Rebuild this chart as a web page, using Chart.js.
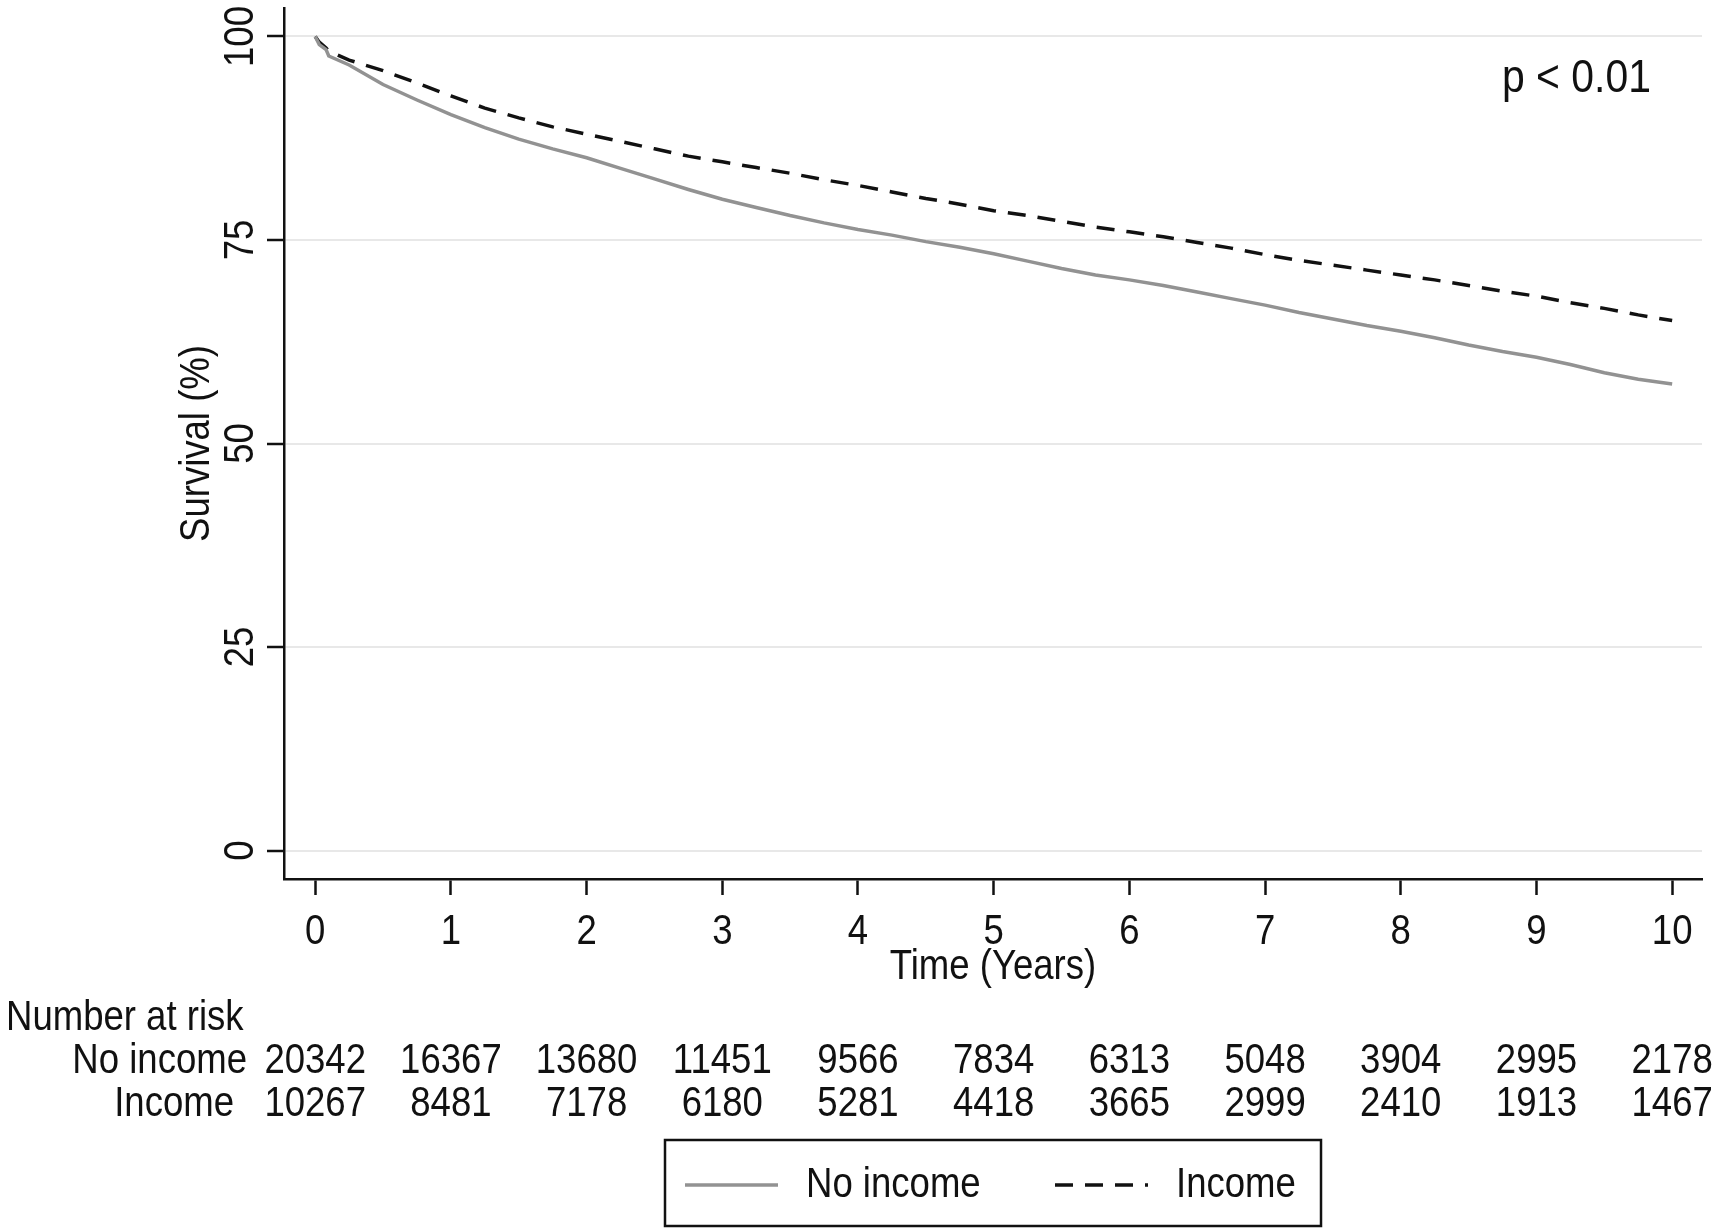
<!DOCTYPE html>
<html>
<head>
<meta charset="utf-8">
<script src="https://cdn.jsdelivr.net/npm/chart.js@4.4.0/dist/chart.umd.min.js"></script>
<style>
  body { margin: 0; background: #fff; }
  canvas { display: block; }
</style>
</head>
<body>
<canvas id="km" width="1717" height="1232"></canvas>
<script>
// survival curves (time in years, survival in %)
var years = [0, 0.03, 0.08, 0.1, 0.25, 0.5, 0.75, 1, 1.25, 1.5, 1.75, 2, 2.25, 2.5, 2.75, 3, 3.25, 3.5, 3.75, 4,
             4.25, 4.5, 4.75, 5, 5.25, 5.5, 5.75, 6, 6.25, 6.5, 6.75, 7, 7.25, 7.5, 7.75, 8, 8.25, 8.5, 8.75, 9,
             9.25, 9.5, 9.75, 10];
var noIncome = [100, 99.0, 98.4, 97.6, 96.5, 94.1, 92.2, 90.4, 88.8, 87.4, 86.2, 85.1, 83.8, 82.5, 81.2, 80.0, 79.0, 78.0, 77.1, 76.3,
                75.6, 74.8, 74.1, 73.3, 72.4, 71.5, 70.7, 70.1, 69.4, 68.6, 67.8, 67.0, 66.1, 65.3, 64.5, 63.8, 63.0, 62.1, 61.3, 60.6,
                59.7, 58.7, 57.9, 57.3];
var income = [100, 99.3, 98.6, 98.2, 97.1, 95.8, 94.3, 92.7, 91.2, 90.0, 88.9, 88.0, 87.1, 86.2, 85.3, 84.6, 83.9, 83.2, 82.4, 81.7,
              80.9, 80.1, 79.4, 78.6, 78.0, 77.3, 76.6, 76.0, 75.4, 74.7, 74.0, 73.2, 72.5, 71.9, 71.3, 70.7, 70.1, 69.4, 68.7, 68.1,
              67.3, 66.6, 65.8, 65.1];

var xTicks = [0, 1, 2, 3, 4, 5, 6, 7, 8, 9, 10];
var yTicks = [0, 25, 50, 75, 100];

// number at risk table
var riskNoIncome = [20342, 16367, 13680, 11451, 9566, 7834, 6313, 5048, 3904, 2995, 2178];
var riskIncome = [10267, 8481, 7178, 6180, 5281, 4418, 3665, 2999, 2410, 1913, 1467];

var FONT = '"Liberation Sans", Arial, sans-serif';

function pts(ys) {
  return years.map(function (t, i) { return {x: t, y: ys[i]}; });
}

// narrow-ish text like the stata export
function txt(ctx, s, x, y, align, rot, size) {
  ctx.save();
  ctx.translate(x, y);
  if (rot) ctx.rotate(rot);
  ctx.scale(0.87, 1);
  ctx.font = (size || 42) + 'px ' + FONT;
  ctx.fillStyle = '#111';
  ctx.textAlign = align;
  ctx.textBaseline = 'middle';
  ctx.fillText(s, 0, 0);
  ctx.restore();
}

var extras = {
  id: 'extras',
  afterDraw: function (chart) {
    var ctx = chart.ctx;
    var xs = chart.scales.x, ys = chart.scales.y;
    var area = chart.chartArea;

    // y tick labels, rotated
    yTicks.forEach(function (v) {
      txt(ctx, String(v), 241, ys.getPixelForValue(v), 'center', -Math.PI / 2);
    });
    txt(ctx, 'Survival (%)', 197, (area.top + area.bottom) / 2, 'center', -Math.PI / 2);

    // x tick labels + title
    xTicks.forEach(function (v) {
      txt(ctx, String(v), xs.getPixelForValue(v), 932, 'center');
    });
    txt(ctx, 'Time (Years)', (area.left + area.right) / 2, 967, 'center');

    txt(ctx, 'p < 0.01', 1502, 79, 'left', 0, 47);

    // risk table
    txt(ctx, 'Number at risk', 6, 1018, 'left');
    txt(ctx, 'No income', 247, 1061, 'right');
    txt(ctx, 'Income', 234, 1104, 'right');
    xTicks.forEach(function (v, i) {
      var px = xs.getPixelForValue(v);
      txt(ctx, String(riskNoIncome[i]), px, 1061, 'center');
      txt(ctx, String(riskIncome[i]), px, 1104, 'center');
    });

    // legend box
    ctx.save();
    ctx.strokeStyle = '#111';
    ctx.lineWidth = 2.5;
    ctx.strokeRect(665, 1140, 656, 86);
    ctx.lineWidth = 3.5;
    ctx.strokeStyle = '#929292';
    ctx.beginPath(); ctx.moveTo(685, 1185); ctx.lineTo(778, 1185); ctx.stroke();
    ctx.strokeStyle = '#111';
    ctx.setLineDash([18, 12]);
    ctx.beginPath(); ctx.moveTo(1055, 1185); ctx.lineTo(1148, 1185); ctx.stroke();
    ctx.restore();
    txt(ctx, 'No income', 806, 1185, 'left');
    txt(ctx, 'Income', 1176, 1185, 'left');
  }
};

var km = document.getElementById('km').getContext('2d');
var chart = new Chart(km, {
  type: 'line',
  data: {
    datasets: [{
      label: 'No income',
      data: pts(noIncome),
      borderColor: '#929292',
      borderWidth: 3.5,
      pointRadius: 0,
      tension: 0
    }, {
      label: 'Income',
      data: pts(income),
      borderColor: '#111',
      borderWidth: 3.5,
      borderDash: [18, 12],
      pointRadius: 0,
      tension: 0
    }]
  },
  options: {
    responsive: false,
    devicePixelRatio: 1,
    animation: false,
    layout: {padding: {left: 0, top: 8, right: 15, bottom: 0}},
    plugins: {legend: {display: false}, tooltip: {enabled: false}},
    scales: {
      x: {
        type: 'linear',
        min: -0.23,
        max: 10.22,
        afterBuildTicks: function (s) { s.ticks = xTicks.map(function (v) { return {value: v}; }); },
        afterFit: function (s) { s.height = 353; },
        ticks: {display: false},
        grid: {drawOnChartArea: false, tickColor: '#111', tickLength: 16, tickWidth: 2.5},
        border: {color: '#111', width: 2.5}
      },
      y: {
        min: -3.5,
        max: 103.5,
        afterBuildTicks: function (s) { s.ticks = yTicks.map(function (v) { return {value: v}; }); },
        afterFit: function (s) { s.width = 284; },
        ticks: {display: false},
        grid: {color: '#e8e8e8', lineWidth: 2, tickColor: '#111', tickLength: 17, tickWidth: 2.5},
        border: {color: '#111', width: 2.5}
      }
    }
  },
  plugins: [extras]
});
</script>
</body>
</html>
